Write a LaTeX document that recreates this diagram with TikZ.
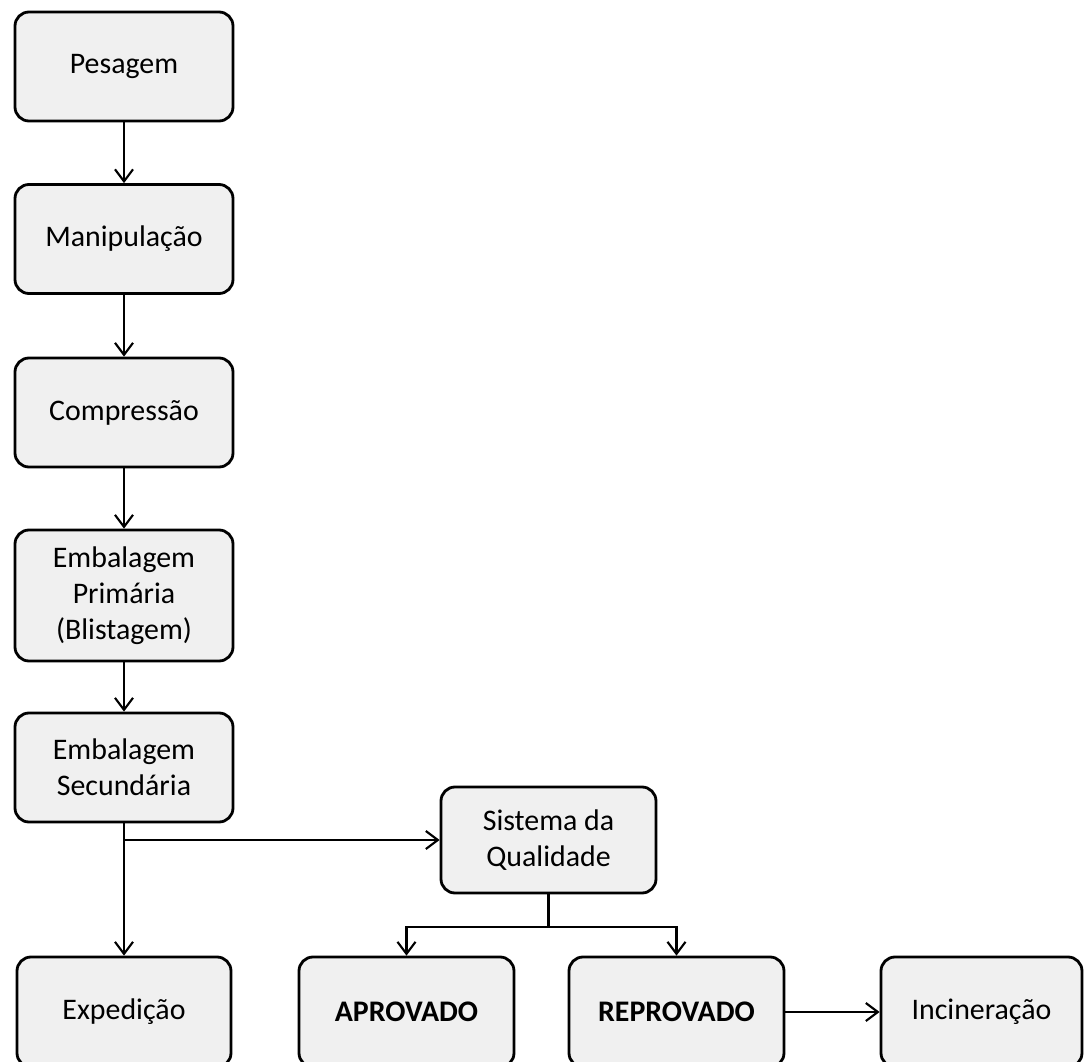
\documentclass[tikz,border=0pt]{standalone}
\usepackage{fontspec}
\setmainfont{Carlito}
\usetikzlibrary{arrows.meta}

\tikzset{
	etapa/.style={draw, line width=0.8pt, rounded corners=0.14cm, fill=gray!12,
		align=center, inner sep=0pt, minimum width=2.18cm, minimum height=1.09cm,
		font=\fontsize{8.5}{10.3}\selectfont},
	fluxo/.style={line width=0.6pt, >={Straight Barb[length=1.2mm,width=1.8mm]}}
}

\begin{document}
\begin{tikzpicture}
		\useasboundingbox (0,0) rectangle (10.85,10.61);
		\node[etapa] (pes) at (1.24,9.945) {Pesagem};
		\node[etapa] (man) at (1.24,8.22) {Manipulação};
		\node[etapa] (comp) at (1.24,6.485) {Compressão};
		\node[etapa, minimum height=1.31cm] (prim) at (1.24,4.655) {Embalagem\\Primária\\(Blistagem)};
		\node[etapa] (sec) at (1.24,2.935) {Embalagem\\Secundária};
		\node[etapa, minimum width=2.15cm, minimum height=1.06cm] (qual) at (5.485,2.21) {Sistema da\\Qualidade};
		\node[etapa, minimum width=2.14cm, minimum height=1.10cm] (exp) at (1.24,0.49) {Expedição};
		\node[etapa, minimum width=2.15cm, minimum height=1.10cm] (apr) at (4.065,0.49) {\bfseries APROVADO};
		\node[etapa, minimum width=2.15cm, minimum height=1.10cm] (rep) at (6.765,0.49) {\bfseries REPROVADO};
		\node[etapa, minimum width=2.01cm, minimum height=1.10cm] (inc) at (9.815,0.49) {Incineração};
		%
		\coordinate (div) at (sec.south |- qual.west);
		\coordinate (ramo) at ([yshift=-0.33cm]qual.south);
		%
		\path[->,fluxo]
		(pes) edge (man)
		(man) edge (comp)
		(comp) edge (prim)
		(prim) edge (sec)
		(sec) edge (exp)
		(div) edge (qual)
		(rep) edge (inc);
		\draw[fluxo] (qual.south) -- (ramo);
		\draw[->,fluxo] (ramo) -| (apr.north);
		\draw[->,fluxo] (ramo) -| (rep.north);
	\end{tikzpicture}
\end{document}
